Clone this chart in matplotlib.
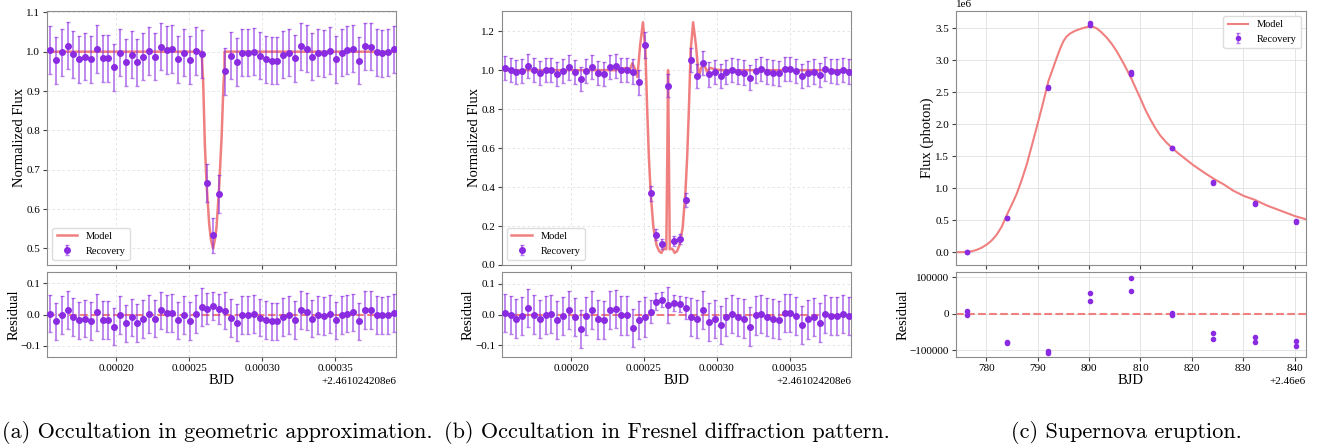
import numpy as np
import matplotlib
matplotlib.use("Agg")
import matplotlib.pyplot as plt

plt.rcParams['font.family'] = 'serif'
plt.rcParams['font.serif'] = ['Liberation Serif', 'DejaVu Serif']
plt.rcParams['axes.unicode_minus'] = True

# ---- (a) geometric occultation ----
bjd0 = 2461024.208
t_first, t_last, n_obs = 0.0001546, 0.0003904, 60   # regular cadence
xlim_occ = (0.0001527, 0.000392)

flux_a = [1.004, 0.978, 0.998, 1.015, 0.993, 0.981, 0.987, 0.981, 1.007, 0.983,
          0.983, 0.960, 0.997, 0.973, 0.992, 0.973, 0.987, 1.002, 0.987, 1.013,
          1.004, 1.007, 0.981, 0.997, 0.979, 1.002, 0.994, 0.666, 0.533, 0.639,
          0.950, 0.990, 0.974, 0.997, 0.997, 1.000, 0.990, 0.981, 0.977, 0.977,
          0.992, 0.997, 0.983, 1.014, 1.008, 0.987, 0.997, 0.996, 1.003, 0.981,
          0.997, 1.004, 1.008, 0.977, 1.014, 1.013, 0.998, 0.996, 0.998, 1.006]
err_a = [0.06] * 27 + [0.049, 0.044, 0.048, 0.059] + [0.06] * 29
resid_a = [0.003, -0.022, -0.002, 0.015, -0.008, -0.019, -0.013, -0.020, 0.007, -0.017,
           -0.017, -0.039, -0.002, -0.028, -0.009, -0.027, -0.014, 0.001, -0.013, 0.013,
           0.004, 0.005, -0.019, -0.002, -0.021, 0.001, 0.024, 0.019, 0.027, 0.018,
           0.012, -0.011, -0.026, -0.002, -0.002, 0.001, -0.010, -0.018, -0.022, -0.022,
           -0.008, -0.002, -0.017, 0.015, 0.009, -0.013, -0.002, -0.004, 0.001, -0.019,
           -0.002, 0.003, 0.007, -0.022, 0.015, 0.014, -0.001, -0.003, -0.002, 0.005]
model_t_a = [0.0001527, 0.0002585, 0.0002596, 0.0002607, 0.0002619, 0.0002637, 0.0002650,
             0.0002664, 0.0002677, 0.0002687, 0.0002705, 0.0002722, 0.0002735, 0.0002741,
             0.0002742, 0.000392]
model_f_a = [1.0, 1.0, 0.919, 0.766, 0.664, 0.561, 0.52, 0.500, 0.525, 0.553, 0.655,
             0.783, 0.919, 0.95, 1.0, 1.0]

# ---- (b) Fresnel diffraction ----
flux_b = [1.009, 1.000, 0.990, 0.997, 1.022, 1.000, 0.986, 1.000, 1.002, 0.981,
          0.997, 1.014, 0.991, 0.954, 0.997, 1.015, 0.985, 0.981, 1.017, 1.021,
          1.003, 1.002, 0.993, 0.937, 1.130, 0.369, 0.156, 0.109, 0.921, 0.123,
          0.132, 0.335, 1.053, 0.971, 1.038, 0.978, 0.990, 0.968, 0.991, 1.000,
          0.993, 0.988, 0.962, 0.997, 1.005, 0.993, 0.988, 0.983, 1.005, 1.007,
          0.995, 0.968, 0.983, 0.993, 0.976, 1.005, 0.997, 0.993, 1.002, 0.993]
err_b = [0.062] * 24 + [0.065, 0.038, 0.028, 0.025, 0.06, 0.025, 0.026, 0.036, 0.063] + [0.062] * 27
resid_b = [0.006, -0.001, -0.013, -0.005, 0.021, 0.000, -0.014, -0.001, 0.001, -0.019,
           -0.005, 0.014, -0.009, -0.047, -0.005, 0.014, -0.016, -0.019, 0.014, 0.017,
           -0.003, -0.003, -0.044, -0.019, -0.009, 0.009, 0.042, 0.048, 0.031, 0.038,
           0.033, 0.020, -0.008, -0.014, 0.015, -0.023, -0.015, -0.034, -0.009, 0.001,
           -0.008, -0.013, -0.039, -0.003, 0.002, -0.009, -0.013, -0.019, 0.004, 0.004,
           -0.005, -0.033, -0.016, -0.009, -0.026, 0.003, -0.004, -0.004, 0.002, -0.005]
model_t_b = [0.0001528, 0.0002305, 0.0002340, 0.0002376, 0.0002398, 0.0002420, 0.0002437,
             0.0002455, 0.0002474, 0.0002493, 0.0002510, 0.0002522, 0.0002534, 0.0002546,
             0.0002565, 0.0002587, 0.0002605, 0.0002620, 0.0002632, 0.0002646, 0.0002653,
             0.0002660, 0.0002665, 0.0002671, 0.0002677, 0.0002684, 0.0002698, 0.0002710,
             0.0002726, 0.0002743, 0.0002765, 0.0002784, 0.0002796, 0.0002808, 0.0002820,
             0.0002837, 0.0002856, 0.0002876, 0.0002891, 0.0002910, 0.0002932, 0.0002954,
             0.0002990, 0.0003023, 0.000392]
model_f_b = [1.0, 1.0, 1.004, 1.012, 0.992, 1.035, 1.01, 0.965, 1.13, 1.246, 1.10, 0.80,
             0.55, 0.37, 0.19, 0.10, 0.07, 0.062, 0.08, 0.085, 0.08, 0.55, 1.0, 0.55, 0.08,
             0.085, 0.08, 0.062, 0.07, 0.10, 0.19, 0.37, 0.55, 0.80, 1.10, 1.246, 1.13,
             0.965, 1.01, 1.035, 0.992, 1.012, 1.004, 1.0, 1.0]

# ---- (c) supernova ----
bjd_sn = 2460000
t_c = [776.2, 784.1, 792.1, 800.2, 808.2, 816.2, 824.2, 832.2, 840.2]
flux_c1 = [7300, 534000, 2580000, 3581000, 2819000, 1630000, 1093000, 765000, 484000]
flux_c2 = [-4600, 536000, 2574000, 3559000, 2783000, 1623000, 1076000, 752000, 472000]
resid_c1 = [7300, -77000, -101000, 56000, 99000, 2000, -52000, -65000, -76000]
resid_c2 = [-4600, -79000, -107000, 34000, 63000, -4600, -69000, -78000, -88000]
err_c = 15000
model_t_c = [774.1, 775.2, 776.2, 777.2, 778.1, 779.1, 780.1, 781.0, 782.0, 783.0, 784.1,
             785.0, 785.9, 786.9, 787.9, 788.8, 789.8, 791.0, 792.1, 793.0, 793.7, 794.4,
             795.0, 795.6, 796.3, 797.2, 798.2, 799.2, 800.1, 800.8, 801.5, 802.4, 803.4,
             804.4, 805.4, 806.8, 808.2, 809.9, 811.0, 811.9, 812.9, 813.8, 815.0, 816.2,
             817.3, 818.4, 820.3, 822.3, 824.2, 826.2, 828.1, 830.1, 832.2, 834.6, 837.9,
             840.2, 842.2]
model_f_c = [0.0, 0.0, 0.005, 0.015, 0.035, 0.07, 0.12, 0.18, 0.27, 0.40, 0.60,
             0.75, 0.91, 1.13, 1.38, 1.65, 1.95, 2.32, 2.68, 2.88, 3.04, 3.19,
             3.30, 3.37, 3.42, 3.46, 3.49, 3.515, 3.53, 3.525, 3.50, 3.44, 3.36,
             3.26, 3.14, 2.94, 2.72, 2.42, 2.22, 2.08, 1.94, 1.83, 1.72, 1.625,
             1.55, 1.48, 1.36, 1.25, 1.15, 1.06, 0.96, 0.88, 0.82, 0.73, 0.63,
             0.56, 0.515]

captions = ['(a) Occultation in geometric approximation.',
            '(b) Occultation in Fresnel diffraction pattern.',
            '(c) Supernova eruption.']

pt_color = 'blueviolet'
err_color = (0.541, 0.169, 0.886, 0.6)
model_color = 'lightcoral'


def style(ax, grid_ls):
    ax.grid(True, ls=grid_ls, color='#e0e0e0', lw=0.6)
    ax.set_axisbelow(True)
    for s in ax.spines.values():
        s.set_color('#8c8c8c')
    ax.tick_params(labelsize=8, length=3, color='#444444', pad=2)


fig = plt.figure(figsize=(13.2, 4.48), dpi=100)

t_obs = bjd0 + np.linspace(t_first, t_last, n_obs)
panels = [(0.0358, flux_a, err_a, resid_a, model_t_a, model_f_a, (0.458, 1.104), 0.135),
          (0.3803, flux_b, err_b, resid_b, model_t_b, model_f_b, (0.0, 1.305), 0.137)]

for left, flux, err, resid, mt, mf, ylim, rlim in panels:
    ax = fig.add_axes([left, 0.4085, 0.2645, 0.5675])
    axr = fig.add_axes([left, 0.2038, 0.2645, 0.1882], sharex=ax)
    ax.plot(bjd0 + np.array(mt), mf, color=model_color, lw=1.8, label='Model', zorder=2)
    ax.errorbar(t_obs, flux, yerr=err, fmt='o', color=pt_color, ms=4, ecolor=err_color,
                elinewidth=1.3, capsize=1.5, label='Recovery', zorder=3)
    ax.set_ylim(*ylim)
    ax.set_xlim(bjd0 + xlim_occ[0], bjd0 + xlim_occ[1])
    ax.set_ylabel('Normalized Flux', fontsize=10.5, labelpad=0)
    ax.tick_params(labelbottom=False)
    ax.legend(loc='lower left', fontsize=7.5, edgecolor='#dddddd', framealpha=1)
    style(ax, (0, (3, 3)))

    axr.axhline(0, color=model_color, ls='--', lw=1.5, zorder=2)
    axr.errorbar(t_obs, resid, yerr=err, fmt='o', color=pt_color, ms=4, ecolor=err_color,
                 elinewidth=1.3, capsize=1.5, zorder=3)
    axr.set_ylim(-rlim, rlim)
    axr.set_yticks([-0.1, 0.0, 0.1])
    axr.set_xticks(bjd0 + np.array([0.0002, 0.00025, 0.0003, 0.00035]))
    axr.set_ylabel('Residual', fontsize=10.5, labelpad=0)
    axr.set_xlabel('BJD', fontsize=10.5, labelpad=1)
    axr.xaxis.get_offset_text().set_fontsize(8)
    style(axr, (0, (3, 3)))

# panel (c)
tc = bjd_sn + np.array(t_c)
ax = fig.add_axes([0.7242, 0.4085, 0.2652, 0.5675])
axr = fig.add_axes([0.7242, 0.2038, 0.2652, 0.1882], sharex=ax)
ax.plot(bjd_sn + np.array(model_t_c), np.array(model_f_c) * 1e6, color=model_color, lw=1.5,
        label='Model', zorder=2)
ax.errorbar(np.concatenate([tc, tc]), flux_c1 + flux_c2, yerr=err_c, fmt='o', color=pt_color,
            ms=3, ecolor=err_color, elinewidth=1.2, capsize=1.5, label='Recovery', zorder=3)
ax.set_xlim(bjd_sn + 774.1, bjd_sn + 842.2)
ax.set_ylabel('Flux (photon)', fontsize=10.5, labelpad=1)
ax.tick_params(labelbottom=False)
ax.yaxis.get_offset_text().set_fontsize(8)
ax.legend(loc='upper right', fontsize=7.5, edgecolor='#dddddd', framealpha=1)
style(ax, '-')

axr.axhline(0, color=model_color, ls='--', lw=1.5, zorder=2)
axr.plot(np.concatenate([tc, tc]), resid_c1 + resid_c2, 'o', color=pt_color, ms=3, zorder=3)
axr.set_ylim(-118000, 114000)
axr.set_yticks([-100000, 0, 100000])
axr.set_ylabel('Residual', fontsize=10.5, labelpad=0)
axr.set_xlabel('BJD', fontsize=10.5, labelpad=1)
axr.xaxis.get_offset_text().set_fontsize(8)
style(axr, '-')

for xc, cap in zip([0.165, 0.505, 0.853], captions):
    fig.text(xc, 0.034, cap, family='cmr10', fontsize=16, ha='center', va='center')

fig.savefig('out.png', dpi=100)
